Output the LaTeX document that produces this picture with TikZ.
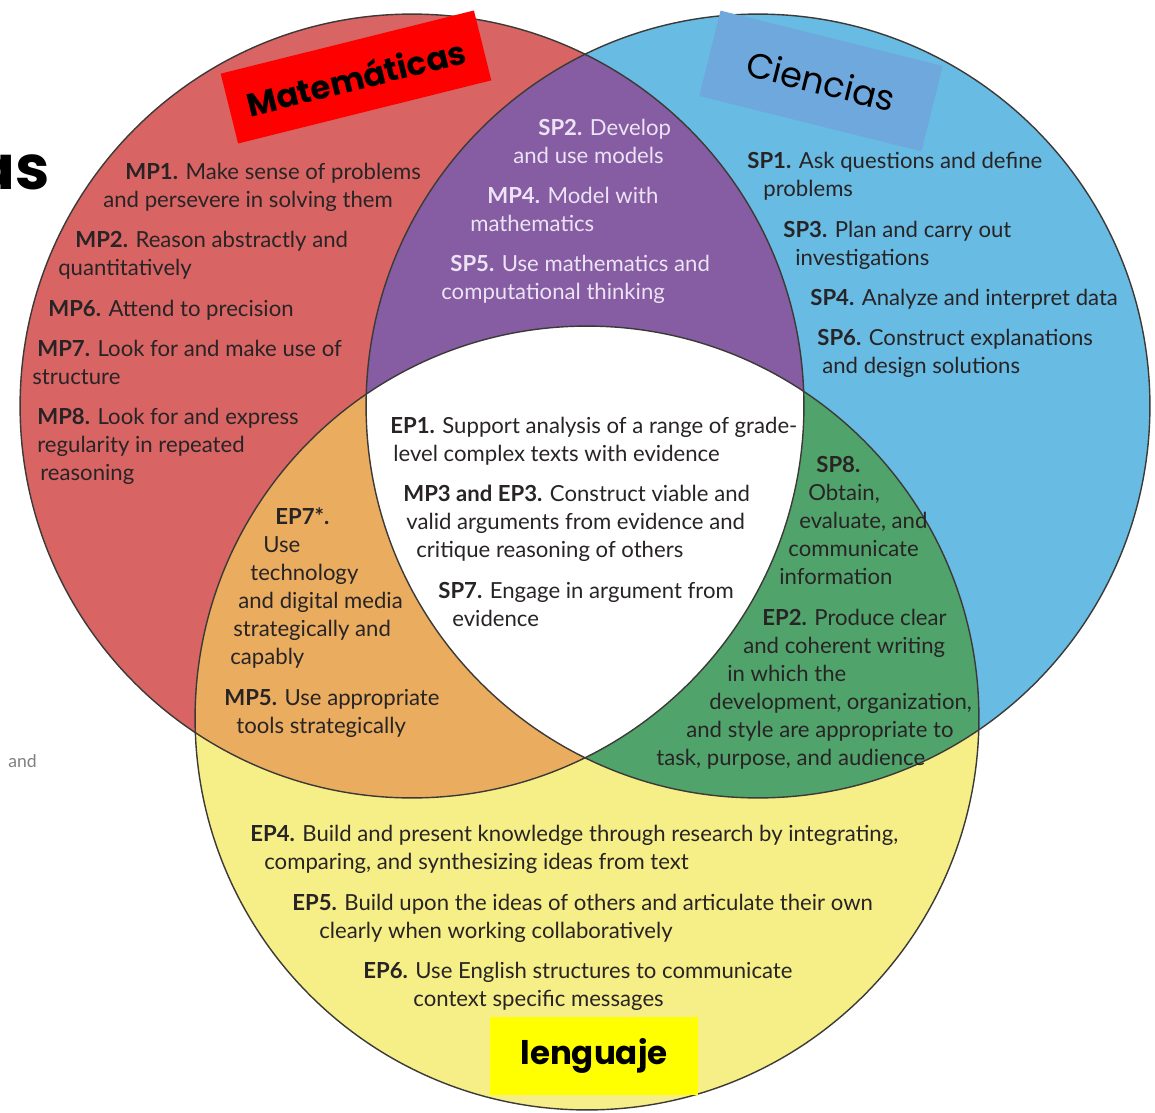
\documentclass[tikz,border=0pt]{standalone}
\usepackage{fontspec}
\setmainfont{Lato}
\newfontfamily\titlefont{Poppins}
\usepackage{tikz}

\definecolor{mathred}{RGB}{216,100,100}
\definecolor{sciblue}{RGB}{104,187,226}
\definecolor{langyellow}{RGB}{246,238,135}
\definecolor{mathsci}{RGB}{134,92,162}
\definecolor{mathlang}{RGB}{234,172,95}
\definecolor{scilang}{RGB}{80,163,106}
\definecolor{ring}{RGB}{60,58,55}
\definecolor{ink}{RGB}{40,36,38}
\definecolor{lavender}{RGB}{236,228,244}
\definecolor{boxred}{RGB}{255,0,0}
\definecolor{boxblue}{RGB}{111,168,220}
\definecolor{boxyellow}{RGB}{255,255,0}

\newlength\pxu
\setlength\pxu{0.02cm}
\newcommand{\ind}[1]{\hspace*{#1\pxu}}
\def\rad{7.84cm}

\tikzset{
  item/.style={anchor=north west, inner sep=0pt, align=left, text=ink,
    font=\fontsize{12.6}{15.94}\selectfont},
  lightitem/.style={item, text=lavender},
  titlebox/.style={inner sep=0pt, text=black,
    font=\titlefont\bfseries\fontsize{18.5}{22}\selectfont},
  outline/.style={draw=ring, line width=0.8pt}
}

\begin{document}
\begin{tikzpicture}[x=0.02cm, y=-0.02cm]
        \useasboundingbox[fill=white] (0,0) rectangle (1155,1112);
        \coordinate (cm) at (412,406);
        \coordinate (cs) at (758,406);
        \coordinate (cl) at (587,718);

        % the three sets
        \fill[mathred] (cm) circle[radius=\rad];
        \fill[sciblue] (cs) circle[radius=\rad];
        \fill[langyellow] (cl) circle[radius=\rad];
        \begin{scope}
                \clip (cm) circle[radius=\rad];
                \fill[mathsci] (cs) circle[radius=\rad];
                \fill[mathlang] (cl) circle[radius=\rad];
        \end{scope}
        \begin{scope}
                \clip (cs) circle[radius=\rad];
                \fill[scilang] (cl) circle[radius=\rad];
                \clip (cm) circle[radius=\rad];
                \fill[white] (cl) circle[radius=\rad];
        \end{scope}
        \draw[outline] (cm) circle[radius=\rad];
        \draw[outline] (cs) circle[radius=\rad];
        \draw[outline] (cl) circle[radius=\rad];

        % titles
        \node[titlebox, fill=boxred, rotate=14, minimum width=5.22cm, minimum height=1.44cm] (mat) at (356,77) {Matemáticas};
        \node[titlebox, fill=boxblue, rotate=-14, minimum width=4.58cm, minimum height=1.76cm, font=\titlefont\fontsize{20}{22}\selectfont] (cien) at (821,81) {Ciencias};
        \node[titlebox, fill=boxyellow, minimum width=4.16cm, minimum height=1.56cm] (leng) at (594,1056) {lenguaje};
        \node[anchor=base east, inner sep=0pt, font=\titlefont\bfseries\fontsize{35}{40}\selectfont] (cut) at (50,189) {as};
        \node[anchor=base east, inner sep=0pt, text=gray, font=\fontsize{10}{12}\selectfont] (cutand) at (37,767) {and};

        % mathematics
        \node[item] (mp1) at (103,163) {\ind{22}\textbf{MP1.} Make sense of problems\\and persevere in solving them};
        \node[item] (mp2) at (58,231) {\ind{17}\textbf{MP2.} Reason abstractly and\\quantitatively};
        \node[item] (mp6) at (48,300) {\textbf{MP6.} Attend to precision};
        \node[item] (mp7) at (32,340) {\ind{5}\textbf{MP7.} Look for and make use of\\structure};
        \node[item] (mp8) at (37,408) {\textbf{MP8.} Look for and express\\regularity in repeated\\\ind{3}reasoning};

        % mathematics and science
        \node[lightitem] (sp2) at (513,119) {\ind{25}\textbf{SP2.} Develop\\and use models};
        \node[lightitem] (mp4) at (470,187) {\ind{17}\textbf{MP4.} Model with\\mathematics};
        \node[lightitem] (sp5) at (441,255) {\ind{9}\textbf{SP5.} Use mathematics and\\computational thinking};

        % science
        \node[item] (sp1) at (747,152) {\textbf{SP1.} Ask questions and define\\\ind{16}problems};
        \node[item] (sp3) at (783,221) {\textbf{SP3.} Plan and carry out\\\ind{12}investigations};
        \node[item] (sp4) at (810,289) {\textbf{SP4.} Analyze and interpret data};
        \node[item] (sp6) at (817,329) {\textbf{SP6.} Construct explanations\\\ind{5}and design solutions};

        % all three
        \node[item] (ep1) at (390,417) {\textbf{EP1.} Support analysis of a range of grade-\\\ind{3}level complex texts with evidence};
        \node[item] (mp3) at (403,485) {\textbf{MP3 and EP3.} Construct viable and\\\ind{3}valid arguments from evidence and\\\ind{13}critique reasoning of others};
        \node[item] (sp7) at (438,582) {\textbf{SP7.} Engage in argument from\\\ind{14}evidence};

        % mathematics and language
        \node[item] (ep7) at (230,507) {\ind{45}\textbf{EP7*.}\\\ind{33}Use\\\ind{20}technology\\\ind{8}and digital media\\\ind{3}strategically and\\capably};
        \node[item] (mp5) at (224,689) {\textbf{MP5.} Use appropriate\\\ind{12}tools strategically};

        % science and language
        \node[item] (sp8) at (779,456) {\ind{37}\textbf{SP8.}\\\ind{29}Obtain,\\\ind{20}evaluate, and\\\ind{9}communicate\\information};
        \node[item] (ep2) at (656,609) {\ind{106}\textbf{EP2.} Produce clear\\\ind{87}and coherent writing\\\ind{71}in which the\\\ind{53}development, organization,\\\ind{30}and style are appropriate to\\task, purpose, and audience};

        % language
        \node[item] (ep4) at (250,825) {\textbf{EP4.} Build and present knowledge through research by integrating,\\\ind{14}comparing, and synthesizing ideas from text};
        \node[item] (ep5) at (292,894) {\textbf{EP5.} Build upon the ideas of others and articulate their own\\\ind{27}clearly when working collaboratively};
        \node[item] (ep6) at (363,962) {\textbf{EP6.} Use English structures to communicate\\\ind{50}context specific messages};
\end{tikzpicture}
\end{document}
